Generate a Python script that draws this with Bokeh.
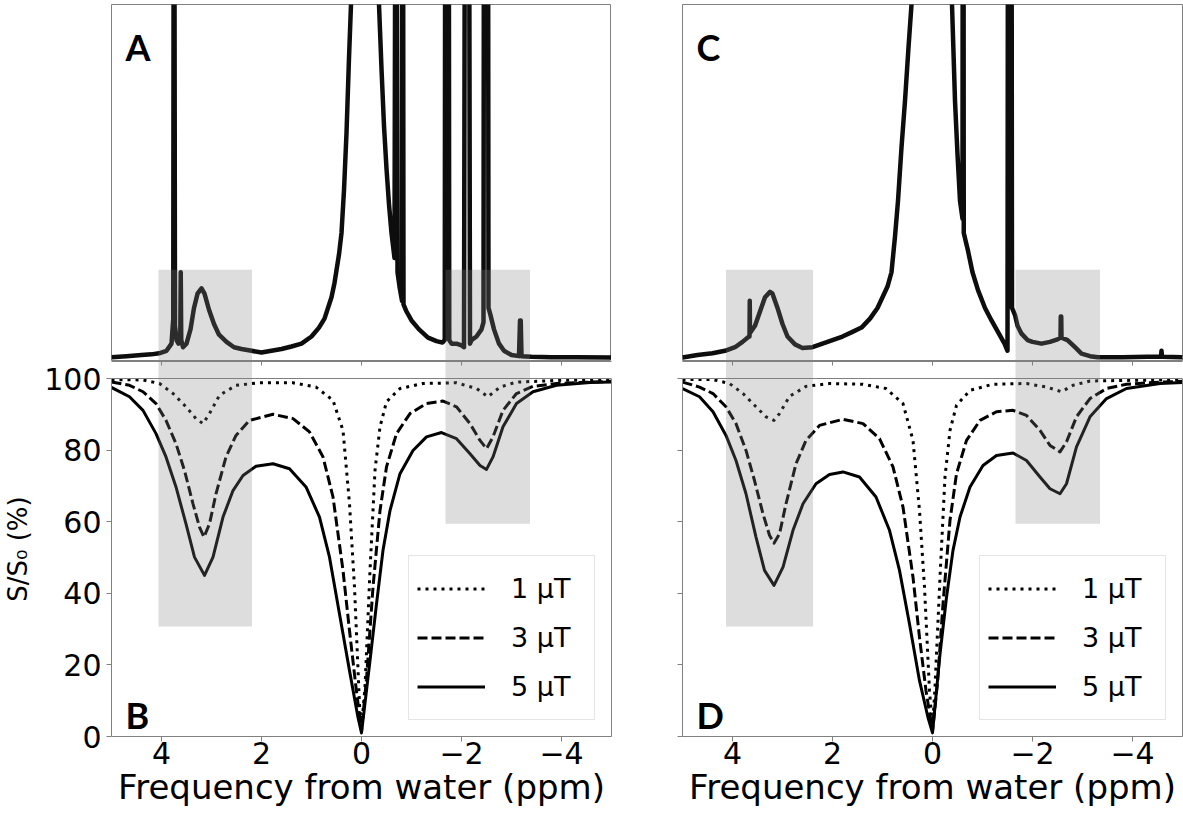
from bokeh.plotting import figure
from bokeh.models import (Range1d, LinearAxis, FixedTicker, Span, Label,
                          Legend, LegendItem)
from bokeh.layouts import row, column
from bokeh.embed import file_html
from bokeh.resources import INLINE

# ---------------- data ----------------
X_TICKS = [4, 2, 0, -2, -4]
X_TICK_LABELS = ["4", "2", "0", "\u22122", "\u22124"]
Y_TICKS = [0, 20, 40, 60, 80, 100]
Y_TICK_LABELS = ["0", "20", "40", "60", "80", "100"]
LEGEND_LABELS = ["1 \u03bcT", "3 \u03bcT", "5 \u03bcT"]
PANEL_LETTERS = ["A", "B", "C", "D"]

# Panel A: spectrum (arbitrary units, 100 = top of frame)
A_ppm = [5.0, 4.7, 4.4, 4.2, 4.05, 3.9, 3.8, 3.765, 3.755, 3.745, 3.73, 3.70,
         3.66, 3.625, 3.615, 3.605, 3.57, 3.5, 3.42, 3.35, 3.28, 3.2, 3.14,
         3.05, 2.95, 2.85, 2.7, 2.55, 2.4, 2.2, 2.0, 1.8, 1.6, 1.4, 1.2, 1.0,
         0.85, 0.74, 0.6, 0.54, 0.45, 0.4, 0.35, 0.3, 0.25, 0.21, 0.15, 0.0,
         -0.25, -0.35, -0.4, -0.45, -0.5, -0.55, -0.6, -0.66, -0.68, -0.70,
         -0.72, -0.76, -0.81, -0.815, -0.83, -0.84, -0.9, -1.0, -1.15, -1.33,
         -1.5, -1.62, -1.665, -1.675, -1.745, -1.755, -1.8, -1.9, -2.0, -2.05,
         -2.07, -2.15, -2.17, -2.2, -2.3, -2.4, -2.44, -2.45, -2.53, -2.54,
         -2.58, -2.65, -2.75, -2.85, -3.0, -3.15, -3.17, -3.185, -3.2, -3.4,
         -3.8, -4.3, -5.0]
A_sig = [1.2, 1.5, 1.8, 2.0, 2.3, 3.0, 5.0, 12, 160, 160, 10, 6,
         5, 6, 25, 6, 4, 5, 9, 15, 19, 20.5, 19,
         14.5, 10.5, 7.5, 5.5, 4, 3.5, 3.0, 2.5, 3.0, 3.5, 4.2, 5.0, 7.0,
         9.5, 12, 18, 22, 30, 36, 48, 64, 85, 100, 150, 400,
         150, 100, 82, 66, 54, 44, 36, 29, 160, 160,
         25, 21, 17, 160, 160, 16, 14, 11.5, 9, 6.7,
         5.7, 5.3, 6, 160, 160, 6, 5, 5, 4.5, 4,
         160, 160, 5, 6, 7, 9, 11, 160, 160, 15,
         13, 9, 5, 3, 1.8, 1.5, 11.5, 11.5, 1.5, 1.3,
         1.2, 1.2, 1.1]

# Panel C: spectrum
C_ppm = [5.0, 4.7, 4.4, 4.15, 3.95, 3.8, 3.67, 3.66, 3.655, 3.65, 3.55, 3.45,
         3.35, 3.25, 3.2, 3.1, 3.0, 2.9, 2.75, 2.6, 2.4, 2.2, 2.0, 1.8, 1.6,
         1.42, 1.25, 1.1, 1.0, 0.9, 0.82, 0.75, 0.69, 0.62, 0.55, 0.48, 0.42,
         0.35, 0.0, -0.3, -0.39, -0.45, -0.5, -0.55, -0.6, -0.605, -0.62,
         -0.625, -0.71, -0.8, -0.91, -1.05, -1.18, -1.3, -1.44, -1.5, -1.51,
         -1.58, -1.59, -1.65, -1.7, -1.78, -1.9, -2.0, -2.18, -2.35, -2.5,
         -2.56, -2.565, -2.575, -2.58, -2.7, -2.85, -2.98, -3.15, -3.31, -3.8,
         -4.3, -4.57, -4.58, -4.59, -5.0]
C_sig = [1.1, 1.8, 2.3, 3.0, 4.0, 5.5, 7, 7, 17, 8, 10, 14,
         18, 19.5, 19, 15, 10.5, 7, 4.8, 3.8, 4.0, 5.0, 6.0, 7.0, 8.3,
         9.5, 12, 15, 18, 21, 25, 35, 45, 60, 73, 88, 100,
         150, 400, 150, 100, 73, 58, 45, 40, 160, 160,
         36, 31, 25, 20, 15, 11.5, 8.5, 5, 3, 160,
         160, 15, 13, 10, 7.8, 6, 5.5, 5, 5.5, 6.2,
         6.7, 12.6, 12.6, 6.7, 6, 4, 2.2, 1.5, 1.2, 1.2,
         1.3, 1.3, 3, 1.3, 1.2]

# Panel B: Z-spectra S/S0 (%)
B_ppm_1uT = [5.0, 4.37, 4.04, 3.77, 3.51, 3.31, 3.17, 3.04, 2.84, 2.51, 2.04,
             1.37, 0.91, 0.57, 0.37, 0.24, 0.14, 0.04, 0.0, -0.07, -0.17,
             -0.27, -0.37, -0.5, -0.77, -1.23, -1.9, -2.3, -2.53, -2.77, -3.1,
             -4.0, -5.0]
B_1uT = [99.7, 99.6, 98.6, 95.8, 92.1, 88.8, 87.4, 90.2, 95.3, 98.1, 98.8,
         98.8, 97.6, 93.9, 85.5, 65.0, 41.7, 9.0, 2.5, 13.7, 46.4,
         74.3, 86.5, 93.5, 97.2, 98.6, 98.8, 97.2, 94.9, 97.6, 99.0,
         99.5, 99.6]
B_ppm_3uT = [5.0, 4.64, 4.37, 4.11, 3.91, 3.71, 3.54, 3.37, 3.24, 3.15, 3.04,
             2.91, 2.71, 2.51, 2.24, 1.77, 1.37, 1.04, 0.77, 0.57, 0.37, 0.24,
             0.11, 0.0, -0.1, -0.23, -0.37, -0.5, -0.7, -0.97, -1.3, -1.63,
             -1.9, -2.17, -2.37, -2.5, -2.63, -2.83, -3.1, -3.43, -3.9, -4.57,
             -5.0]
B_3uT = [99.0, 98.1, 96.3, 93.0, 88.3, 81.8, 74.3, 65.0, 58.5, 55.7, 59.4,
         67.8, 78.1, 84.1, 88.3, 90.0, 88.8, 85.1, 78.1, 66.9, 46.4, 29.6,
         13.7, 1.5, 16.0, 41.7, 63.1, 75.3, 84.6, 90.2, 93.0, 93.7,
         92.1, 87.4, 82.7, 80.4, 83.7, 91.1, 95.8, 97.8, 98.6, 99.0,
         99.2]
B_ppm_5uT = [5.0, 4.64, 4.37, 4.11, 3.91, 3.71, 3.51, 3.34, 3.14, 2.97, 2.77,
             2.57, 2.37, 2.11, 1.77, 1.44, 1.11, 0.84, 0.64, 0.44, 0.24, 0.07,
             0.0, -0.17, -0.3, -0.43, -0.57, -0.77, -1.03, -1.3, -1.6, -1.9,
             -2.17, -2.37, -2.5, -2.63, -2.83, -3.1, -3.43, -3.9, -4.57, -5.0]
B_5uT = [97.5, 94.9, 91.1, 84.6, 78.1, 69.7, 59.4, 50.1, 45.0, 50.1, 61.3,
         68.7, 72.9, 75.5, 76.2, 74.8, 69.7, 61.3, 50.1, 34.2, 18.4, 5.3,
         1.0, 21.2, 37.0, 52.0, 63.1, 73.4, 79.9, 83.7, 84.9, 83.2,
         79.0, 75.7, 74.6, 78.1, 86.5, 93.0, 96.3, 98.1, 98.9, 99.0]

# Panel D: Z-spectra S/S0 (%)
D_ppm_1uT = [5.0, 4.39, 4.06, 3.79, 3.53, 3.33, 3.17, 3.06, 2.86, 2.53, 2.06,
             1.39, 0.93, 0.59, 0.39, 0.26, 0.16, 0.06, 0.0, -0.05, -0.15,
             -0.25, -0.35, -0.48, -0.75, -1.21, -1.88, -2.28, -2.58, -2.81,
             -3.15, -4.0, -5.0]
D_1uT = [99.7, 99.7, 98.6, 95.8, 92.1, 89.3, 88.3, 90.2, 95.0, 97.8, 98.6,
         98.4, 97.2, 93.0, 82.7, 63.1, 41.7, 12.8, 2.5, 13.7, 44.5,
         72.5, 85.5, 92.5, 96.7, 98.4, 98.6, 97.6, 96.3, 98.1,
         99.3, 99.5, 99.6]
D_ppm_3uT = [5.0, 4.66, 4.39, 4.13, 3.93, 3.73, 3.56, 3.39, 3.26, 3.17, 3.06,
             2.93, 2.73, 2.53, 2.26, 1.79, 1.39, 1.06, 0.79, 0.59, 0.39, 0.26,
             0.13, 0.0, -0.1, -0.21, -0.35, -0.48, -0.68, -0.95, -1.28, -1.61,
             -1.88, -2.15, -2.35, -2.55, -2.68, -2.88, -3.15, -3.48, -3.88,
             -4.55, -5.0]
D_3uT = [99.0, 97.6, 95.8, 92.1, 87.4, 79.9, 71.5, 62.2, 56.2, 54.0, 56.6,
         65.0, 76.2, 82.7, 86.9, 88.6, 87.4, 83.2, 75.3, 64.1, 44.5, 27.7,
         12.8, 1.5, 15.0, 37.0, 60.4, 73.4, 82.7, 88.3, 90.7, 91.1,
         89.7, 85.5, 81.3, 79.5, 82.3, 89.3, 94.4, 97.2, 98.4,
         99.0, 99.2]
D_ppm_5uT = [5.0, 4.66, 4.39, 4.13, 3.93, 3.73, 3.53, 3.36, 3.17, 2.99, 2.79,
             2.59, 2.33, 2.06, 1.79, 1.46, 1.13, 0.86, 0.66, 0.46, 0.26, 0.09,
             0.0, -0.15, -0.28, -0.41, -0.55, -0.75, -1.01, -1.28, -1.61, -1.88,
             -2.15, -2.35, -2.55, -2.68, -2.88, -3.15, -3.48, -3.88, -4.55, -5.0]
D_5uT = [97.2, 94.9, 90.7, 84.1, 77.1, 67.8, 55.7, 46.4, 42.2, 47.3, 57.6,
         65.0, 70.6, 73.2, 73.9, 72.5, 66.9, 57.6, 46.4, 31.4, 15.6, 5.3,
         1.0, 23.0, 38.9, 52.0, 61.3, 69.7, 75.7, 78.5, 79.2, 77.1,
         72.5, 69.2, 67.8, 70.6, 80.9, 89.3, 94.4, 97.2, 98.6, 98.9]

# Highlighted (gray) frequency bands, ppm
AB_band_start = [4.06, -1.68]
AB_band_end = [2.19, -3.37]
CD_band_start = [4.13, -1.66]
CD_band_end = [2.39, -3.35]
BAND_TOP_SPECTRUM = 25.7          # top of band in spectrum panels
BAND_BOTTOM_Z = [30.7, 59.4]      # bottom of bands in Z-spectrum panels

# ---------------- styling / layout ----------------
FONT = "DejaVu Sans"
LETTER_FONT = "Lato"
SPINE = "#808080"
BAND_COLOR = "#808080"
BAND_ALPHA = 0.27
FRAME_W = 500
TOP_FRAME_H = 357
PANEL_H = 358
GAP_H = 17
Y_TOP = 100.0 * (PANEL_H + GAP_H) / PANEL_H
LEFT_BORDER_1 = 110
LEFT_BORDER_2 = 70
X_START, X_END = 5, -5


def make_top(ppm, sig, band_l, band_r, letter, left_border):
    p = figure(frame_width=FRAME_W, frame_height=TOP_FRAME_H,
               x_range=Range1d(X_START, X_END), y_range=Range1d(0, 100),
               x_axis_type=None, y_axis_type=None,
               toolbar_location=None, output_backend="svg",
               min_border_left=left_border, min_border_right=1,
               min_border_top=4, min_border_bottom=0)
    p.outline_line_color = SPINE
    p.outline_line_width = 1
    p.line(ppm, sig, line_color="#0d0d0d", line_width=4.5, line_join="round")
    p.quad(left=band_l, right=band_r, bottom=0, top=BAND_TOP_SPECTRUM,
           fill_color=BAND_COLOR, fill_alpha=BAND_ALPHA, line_color=None)
    p.add_layout(Label(x=4.72, y=88, text=letter, text_font=LETTER_FONT,
                       text_font_style="bold", text_font_size="36px",
                       text_baseline="alphabetic", text_color="black"))
    return p


def make_bottom(curves, band_l, band_r, letter, left_border, first):
    p = figure(frame_width=FRAME_W, frame_height=PANEL_H + GAP_H,
               x_range=Range1d(X_START, X_END), y_range=Range1d(0, Y_TOP),
               toolbar_location=None, output_backend="svg",
               min_border_left=left_border, min_border_right=1,
               min_border_top=0, min_border_bottom=0)
    p.outline_line_color = None
    p.grid.visible = False

    xa = p.xaxis[0]
    xa.ticker = FixedTicker(ticks=X_TICKS)
    xa.major_label_overrides = {float(t): s for t, s in zip(X_TICKS, X_TICK_LABELS)}
    xa.axis_line_color = SPINE
    xa.major_tick_line_color = SPINE
    xa.minor_tick_line_color = None
    xa.major_tick_out = 5
    xa.major_tick_in = 0
    xa.major_label_standoff = 0
    xa.major_label_text_font = FONT
    xa.major_label_text_font_size = "30px"
    xa.major_label_text_color = "black"
    xa.axis_label = "Frequency from water (ppm)"
    xa.axis_label_standoff = 0
    xa.axis_label_text_font = FONT
    xa.axis_label_text_font_size = "34px"
    xa.axis_label_text_font_style = "normal"
    xa.axis_label_text_color = "black"

    ya = p.yaxis[0]
    ya.ticker = FixedTicker(ticks=Y_TICKS)
    ya.bounds = (0, 100)
    ya.axis_line_color = SPINE
    ya.major_tick_line_color = SPINE
    ya.minor_tick_line_color = None
    ya.major_tick_out = 5
    ya.major_tick_in = 0
    if first:
        ya.major_label_overrides = {float(t): s for t, s in zip(Y_TICKS, Y_TICK_LABELS)}
        ya.major_label_standoff = 5
        ya.major_label_text_font = FONT
        ya.major_label_text_font_size = "30px"
        ya.major_label_text_color = "black"
        ya.axis_label = "S/S\u2080 (%)"
        ya.axis_label_standoff = 8
        ya.axis_label_text_font = FONT
        ya.axis_label_text_font_size = "26px"
        ya.axis_label_text_font_style = "normal"
        ya.axis_label_text_color = "black"
    else:
        ya.major_label_text_color = None
        ya.major_label_standoff = 0

    # ticks hanging from the spectrum panel's bottom spine
    top_ax = LinearAxis(ticker=FixedTicker(ticks=X_TICKS), major_tick_in=4,
                        major_tick_out=0, major_label_text_color=None,
                        major_label_standoff=0, minor_tick_line_color=None,
                        axis_line_color=SPINE, major_tick_line_color=SPINE)
    p.add_layout(top_ax, "above")
    # right spine of the Z-spectrum panel
    right_ax = LinearAxis(ticker=FixedTicker(ticks=[]), bounds=(0, 100),
                          major_tick_in=0, major_tick_out=0,
                          major_label_text_color=None,
                          major_label_standoff=0, minor_tick_line_color=None,
                          axis_line_color=SPINE)
    p.add_layout(right_ax, "right")
    # top spine of the Z-spectrum panel
    p.add_layout(Span(location=100, dimension="width", line_color=SPINE,
                      line_width=1))

    styles = [dict(line_dash="3 5"), dict(line_dash="10 4"), dict()]
    rends = []
    for (xs, ys), st in zip(curves, styles):
        rends.append(p.line(xs, ys, line_color="black", line_width=3,
                            line_join="round", **st))

    p.quad(left=band_l, right=band_r, bottom=BAND_BOTTOM_Z, top=Y_TOP,
           fill_color=BAND_COLOR, fill_alpha=BAND_ALPHA, line_color=None)

    legend = Legend(items=[LegendItem(label=lab, renderers=[r])
                           for lab, r in zip(LEGEND_LABELS, rends)],
                    location="bottom_right", margin=16, padding=8, spacing=0,
                    glyph_width=68, glyph_height=49, label_height=49,
                    label_width=75, label_standoff=26,
                    label_text_font=FONT, label_text_font_size="27px",
                    label_text_color="black",
                    border_line_color="#cccccc", border_line_width=1,
                    background_fill_color="white", background_fill_alpha=0.8)
    p.add_layout(legend)

    p.add_layout(Label(x=4.72, y=5.9, text=letter, text_font=LETTER_FONT,
                       text_font_style="bold", text_font_size="36px",
                       text_baseline="alphabetic", text_color="black"))
    return p


pA = make_top(A_ppm, A_sig, AB_band_start, AB_band_end, PANEL_LETTERS[0], LEFT_BORDER_1)
pB = make_bottom([(B_ppm_1uT, B_1uT), (B_ppm_3uT, B_3uT), (B_ppm_5uT, B_5uT)],
                 AB_band_start, AB_band_end, PANEL_LETTERS[1], LEFT_BORDER_1, True)
pC = make_top(C_ppm, C_sig, CD_band_start, CD_band_end, PANEL_LETTERS[2], LEFT_BORDER_2)
pD = make_bottom([(D_ppm_1uT, D_1uT), (D_ppm_3uT, D_3uT), (D_ppm_5uT, D_5uT)],
                 CD_band_start, CD_band_end, PANEL_LETTERS[3], LEFT_BORDER_2, False)

layout = row(column(pA, pB, spacing=0), column(pC, pD, spacing=0), spacing=0)

open("out.html", "w").write(file_html(layout, INLINE))
